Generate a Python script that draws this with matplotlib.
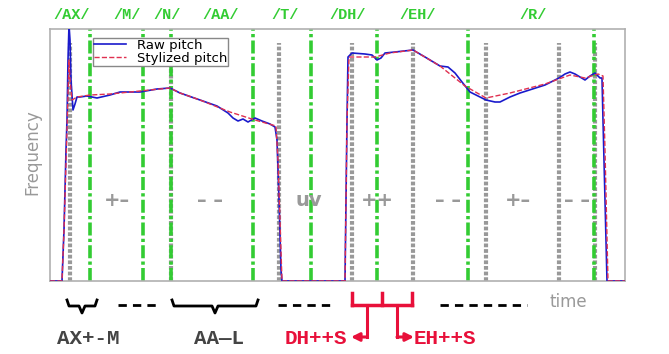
import matplotlib
matplotlib.use("Agg")
import matplotlib.pyplot as plt

# pitch contour (time in frames, frequency in arbitrary units)
raw_t = [0, 12, 14, 16, 17, 18, 19, 20, 21, 23, 25, 27, 30, 37, 47, 60, 70, 90, 107, 120, 130, 150,
         167, 178, 183, 188, 193, 198, 205, 212, 220, 225, 227, 229, 231, 232, 295, 296, 297, 298,
         302, 315, 322, 327, 331, 335, 345, 363, 375, 390, 398, 405, 412, 420, 436, 445, 450, 460,
         470, 495, 509, 515, 520, 525, 530, 535, 540, 545, 550, 552, 553, 555, 557, 575]
raw_f = [0, 0, 51, 131, 161, 221, 256, 241, 201, 171, 177, 184, 184, 185, 183, 186, 189, 189, 192,
         193, 188, 181, 175, 168, 163, 160, 162, 159, 163, 160, 157, 154, 141, 81, 11, 0, 0, 81, 161,
         224, 228, 227, 226, 221, 223, 228, 229, 231, 224, 215, 214, 208, 199, 189, 181, 179, 179,
         184, 188, 196, 203, 207, 209, 207, 204, 201, 205, 208, 203, 203, 161, 81, 0, 0]

sty_t = [0, 12, 14, 17, 19, 20, 22, 27, 40, 60, 80, 100, 120, 130, 150, 180, 205, 226, 228, 232,
         295, 297, 299, 325, 340, 363, 390, 415, 436, 460, 495, 520, 535, 548, 553, 555, 558, 575]
sty_f = [0, 0, 51, 151, 221, 201, 181, 184, 186, 187, 189, 191, 193, 188, 181, 169, 161, 155, 121, 0,
         0, 161, 224, 224, 228, 231, 215, 195, 183, 188, 197, 206, 203, 207, 205, 131, 0, 0]

# segment boundaries
phone_t = [40, 93, 121, 203, 261, 327, 418, 544]
syl_t = [20, 121, 229, 302, 363, 436, 509, 545]

phones = ["/AX/", "/M/", "/N/", "/AA/", "/T/", "/DH/", "/EH/", "/R/"]
phones_x = [22, 77, 117, 171, 235, 298, 368, 483]

shapes = ["+\u2013", "\u2013 \u2013", "uv", "++", "\u2013 \u2013", "+\u2013", "\u2013 \u2013"]
shapes_x = [67, 160, 259, 327, 398, 468, 527]

green = "#33cc33"
gray = "#999999"
red = "#e8103a"

fig = plt.figure(figsize=(6.69, 3.54), dpi=100)
ax = fig.add_axes([50 / 669, 73 / 354, 575 / 669, 252 / 354])
ax.set_xlim(0, 575)
ax.set_ylim(0, 252)
ax.set_xticks([])
ax.set_yticks([])
for s in ax.spines.values():
    s.set_color("#b0b0b0")
    s.set_linewidth(1.2)

for t in syl_t:
    ax.plot([t, t], [0, 238], color=gray, lw=3, dashes=(0.9, 0.45), zorder=1)
for t in phone_t:
    ax.plot([t, t], [0, 252], color=green, lw=2.6, dashes=(3.6, 0.9, 0.9, 0.9), zorder=2)

ax.plot(raw_t, raw_f, color="#1a1acc", lw=1.2, label="Raw pitch", zorder=3)
ax.plot(sty_t, sty_f, color="#e03050", lw=1.0, ls="--", label="Stylized pitch", zorder=4)

ax.legend(loc="upper left", bbox_to_anchor=(0.075, 0.966), fontsize=9.5, frameon=True,
          fancybox=False, edgecolor="#888888", borderpad=0.1, labelspacing=0.0,
          handlelength=2.4, handletextpad=0.8, borderaxespad=0, framealpha=1)

for lab, x in zip(phones, phones_x):
    ax.text(x, 266, lab, color=green, fontsize=11, fontweight="bold",
            family="Liberation Mono", ha="center", va="center", clip_on=False)

for lab, x in zip(shapes, shapes_x):
    ax.text(x, 81, lab, color=gray, fontsize=14, fontweight="bold", ha="center", va="center")

fig.text(32 / 669, 1 - 152 / 354, "Frequency", rotation=90, color=gray, fontsize=12,
         ha="center", va="center")

# annotations under the time axis
def brace(x0, x1, xm):
    ax.plot([x0, x0 + 2, xm - 3, xm, xm + 3, x1 - 2, x1], [-19, -25, -25, -32, -25, -25, -19],
            color="black", lw=2, clip_on=False)

brace(17, 47, 32)
brace(122, 208, 165)
for a, b in [(68, 110), (228, 283), (390, 477)]:
    ax.plot([a, b], [-24, -24], color="black", lw=2, dashes=(3, 2.2), clip_on=False)

# red split bracket with two arrows
ax.plot([302, 362], [-24, -24], color=red, lw=2.5, clip_on=False)
for t in [302, 332, 362]:
    ax.plot([t, t], [-12, -24], color=red, lw=2.5, clip_on=False)
for stem, tip in [(317, 301), (347, 364)]:
    ax.plot([stem, stem], [-24, -56], color=red, lw=2.2, clip_on=False)
    ax.annotate("", xy=(tip, -56), xytext=(stem, -56), annotation_clip=False,
                arrowprops=dict(arrowstyle="-|>", color=red, lw=2.2, mutation_scale=12,
                                shrinkA=0, shrinkB=0))

ax.text(518, -21, "time", color=gray, fontsize=12, ha="center", va="center", clip_on=False)

mono = dict(family="Liberation Mono", fontweight="bold", fontsize=15, va="center", clip_on=False)
ax.text(38, -57, "AX+-M", color="#444444", ha="center", **mono)
ax.text(169, -57, "AA\u2014L", color="#444444", ha="center", **mono)
ax.text(297, -57, "DH++S", color=red, ha="right", **mono)
ax.text(364, -57, "EH++S", color=red, ha="left", **mono)

plt.savefig("out.png", dpi=100)
